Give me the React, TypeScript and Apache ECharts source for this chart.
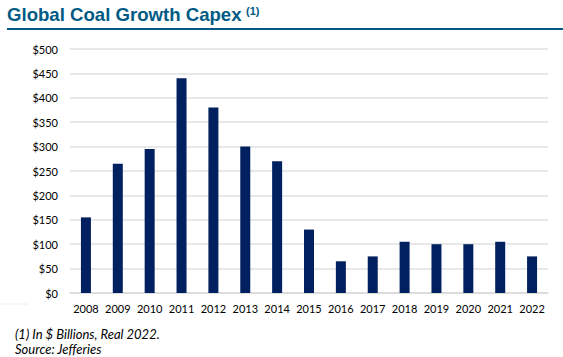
import React, { useEffect, useRef } from "react";
import * as echarts from "echarts";

const years = ["2008", "2009", "2010", "2011", "2012", "2013", "2014", "2015", "2016", "2017", "2018", "2019", "2020", "2021", "2022"];
const capex = [155, 265, 295, 440, 380, 300, 270, 130, 65, 75, 105, 100, 100, 105, 75];
const titleText = "Global Coal Growth Capex";
const footnotes = ["(1) In $ Billions, Real 2022.", "Source: Jefferies"];

export default function App() {
  const ref = useRef<HTMLDivElement>(null);
  useEffect(() => {
    const chart = echarts.init(ref.current!, null, { renderer: "svg" });
    const labelFont = "Lato, 'Open Sans', sans-serif";
    chart.setOption({
      animation: false,
      backgroundColor: "#ffffff",
      grid: { left: 70, right: 15, top: 49, bottom: 64 },
      xAxis: {
        type: "category",
        data: years,
        axisLine: { show: true, lineStyle: { color: "#d9d9d9", width: 1.5 } },
        axisTick: { show: false },
        axisLabel: { color: "#000", fontSize: 11, fontFamily: labelFont, margin: 10, interval: 0 },
      },
      yAxis: {
        type: "value",
        min: 0,
        max: 500,
        interval: 50,
        axisLine: { show: false },
        axisTick: { show: false },
        axisLabel: {
          color: "#000",
          fontSize: 11,
          fontFamily: labelFont,
          margin: 12,
          formatter: (v: number) => "$" + v,
        },
        splitLine: { lineStyle: { color: "#e0e0e0", width: 1.5 } },
      },
      series: [
        {
          type: "bar",
          data: capex,
          barWidth: 10,
          itemStyle: { color: "#002060" },
        },
      ],
      graphic: [
        {
          type: "text",
          left: 7,
          top: 5,
          style: {
            text: titleText,
            font: "bold 18.6px 'Liberation Sans', Arial, sans-serif",
            fill: "#005A84",
          },
        },
        {
          type: "text",
          left: 246,
          top: 5,
          style: {
            text: "(1)",
            font: "bold 11px 'Liberation Sans', Arial, sans-serif",
            fill: "#005A84",
          },
        },
        {
          type: "line",
          shape: { x1: 7, y1: 29, x2: 563, y2: 29 },
          style: { stroke: "#005A84", lineWidth: 2 },
        },
        {
          type: "line",
          shape: { x1: 0, y1: 304, x2: 28, y2: 304 },
          style: { stroke: "#eeeeee", lineWidth: 1 },
        },
        {
          type: "text",
          left: 15,
          top: 327,
          style: {
            text: footnotes[0],
            font: "italic 13px Lato, 'Open Sans', sans-serif",
            fill: "#000",
          },
        },
        {
          type: "text",
          left: 15,
          top: 342,
          style: {
            text: footnotes[1],
            font: "italic 13px Lato, 'Open Sans', sans-serif",
            fill: "#000",
          },
        },
      ],
    });
    return () => chart.dispose();
  }, []);
  return (
    <div
      ref={ref}
      style={{ position: "absolute", left: 0, top: 0, width: 563, height: 357 }}
    />
  );
}
